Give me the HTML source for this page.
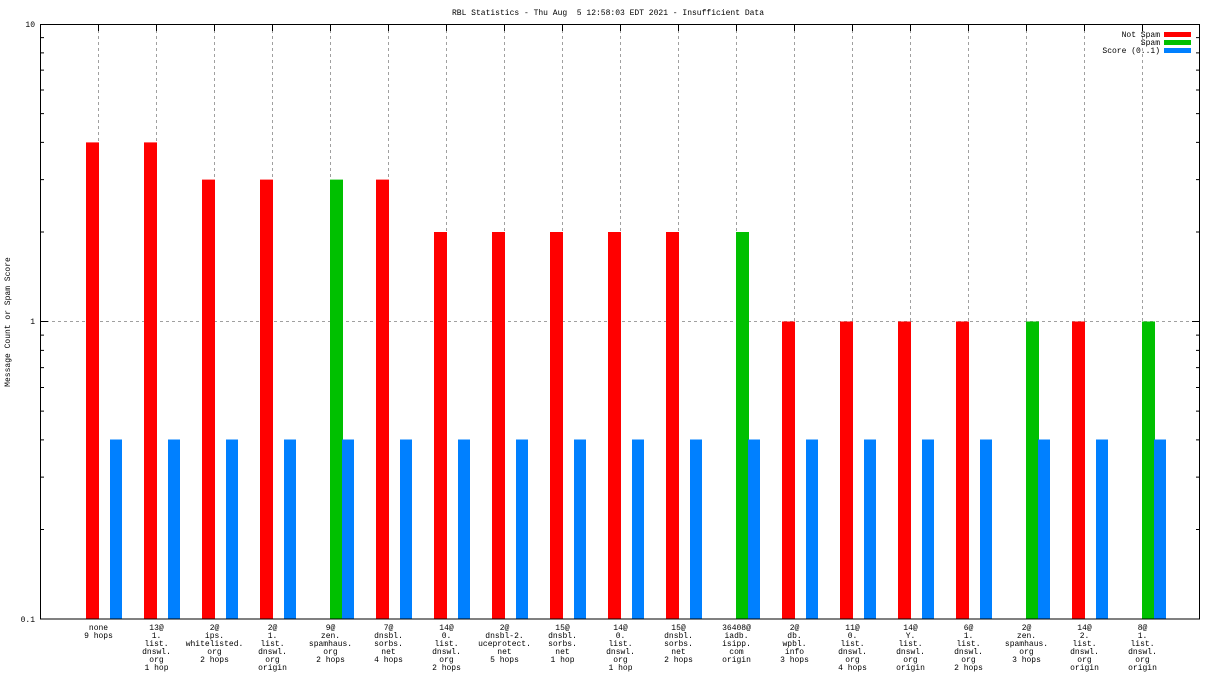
<!DOCTYPE html>
<html><head><meta charset="utf-8"><style>
html,body{margin:0;padding:0;background:#fff;}
svg{display:block;}
text{font-family:"Liberation Mono",monospace;font-size:8px;fill:#000;}
.pre{white-space:pre;}
</style></head><body>
<svg width="1216" height="684" viewBox="0 0 1216 684" xmlns="http://www.w3.org/2000/svg">
<rect width="1216" height="684" fill="#fff"/>
<text class="pre" xml:space="preserve" x="608" y="15" text-anchor="middle">RBL Statistics - Thu Aug  5 12:58:03 EDT 2021 - Insufficient Data</text>
<text transform="translate(10,322) rotate(-90)" text-anchor="middle">Message Count or Spam Score</text>
<g stroke="#a0a0a0" stroke-width="1" stroke-dasharray="3,3">
<line x1="40" y1="321.5" x2="1200" y2="321.5"/>
<line x1="98.5" y1="24" x2="98.5" y2="619"/><line x1="156.5" y1="24" x2="156.5" y2="619"/><line x1="214.5" y1="24" x2="214.5" y2="619"/><line x1="272.5" y1="24" x2="272.5" y2="619"/><line x1="330.5" y1="24" x2="330.5" y2="619"/><line x1="388.5" y1="24" x2="388.5" y2="619"/><line x1="446.5" y1="24" x2="446.5" y2="619"/><line x1="504.5" y1="24" x2="504.5" y2="619"/><line x1="562.5" y1="24" x2="562.5" y2="619"/><line x1="620.5" y1="24" x2="620.5" y2="619"/><line x1="678.5" y1="24" x2="678.5" y2="619"/><line x1="736.5" y1="24" x2="736.5" y2="619"/><line x1="794.5" y1="24" x2="794.5" y2="619"/><line x1="852.5" y1="24" x2="852.5" y2="619"/><line x1="910.5" y1="24" x2="910.5" y2="619"/><line x1="968.5" y1="24" x2="968.5" y2="619"/><line x1="1026.5" y1="24" x2="1026.5" y2="619"/><line x1="1084.5" y1="24" x2="1084.5" y2="619"/><line x1="1142.5" y1="24" x2="1142.5" y2="619"/>
</g>
<g>
<rect x="86" y="142.4" width="13" height="476.6" fill="#ff0000"/>
<rect x="144" y="142.4" width="13" height="476.6" fill="#ff0000"/>
<rect x="202" y="179.6" width="13" height="439.4" fill="#ff0000"/>
<rect x="260" y="179.6" width="13" height="439.4" fill="#ff0000"/>
<rect x="330" y="179.6" width="13" height="439.4" fill="#00c000"/>
<rect x="376" y="179.6" width="13" height="439.4" fill="#ff0000"/>
<rect x="434" y="232" width="13" height="387" fill="#ff0000"/>
<rect x="492" y="232" width="13" height="387" fill="#ff0000"/>
<rect x="550" y="232" width="13" height="387" fill="#ff0000"/>
<rect x="608" y="232" width="13" height="387" fill="#ff0000"/>
<rect x="666" y="232" width="13" height="387" fill="#ff0000"/>
<rect x="736" y="232" width="13" height="387" fill="#00c000"/>
<rect x="782" y="321.5" width="13" height="297.5" fill="#ff0000"/>
<rect x="840" y="321.5" width="13" height="297.5" fill="#ff0000"/>
<rect x="898" y="321.5" width="13" height="297.5" fill="#ff0000"/>
<rect x="956" y="321.5" width="13" height="297.5" fill="#ff0000"/>
<rect x="1026" y="321.5" width="13" height="297.5" fill="#00c000"/>
<rect x="1072" y="321.5" width="13" height="297.5" fill="#ff0000"/>
<rect x="1142" y="321.5" width="13" height="297.5" fill="#00c000"/>
</g>
<g fill="#0080ff">
<rect x="110" y="439.5" width="12" height="179.5"/><rect x="168" y="439.5" width="12" height="179.5"/><rect x="226" y="439.5" width="12" height="179.5"/><rect x="284" y="439.5" width="12" height="179.5"/><rect x="342" y="439.5" width="12" height="179.5"/><rect x="400" y="439.5" width="12" height="179.5"/><rect x="458" y="439.5" width="12" height="179.5"/><rect x="516" y="439.5" width="12" height="179.5"/><rect x="574" y="439.5" width="12" height="179.5"/><rect x="632" y="439.5" width="12" height="179.5"/><rect x="690" y="439.5" width="12" height="179.5"/><rect x="748" y="439.5" width="12" height="179.5"/><rect x="806" y="439.5" width="12" height="179.5"/><rect x="864" y="439.5" width="12" height="179.5"/><rect x="922" y="439.5" width="12" height="179.5"/><rect x="980" y="439.5" width="12" height="179.5"/><rect x="1038" y="439.5" width="12" height="179.5"/><rect x="1096" y="439.5" width="12" height="179.5"/><rect x="1154" y="439.5" width="12" height="179.5"/>
</g>
<rect x="40.5" y="24.5" width="1159" height="594.5" fill="none" stroke="#000" stroke-width="1"/>
<g stroke="#000" stroke-width="1">
<path d="M40 24.5h8M40 321.5h8M40 619h8M1200 24.5h-8M1200 321.5h-8M1200 619h-8"/>
<path d="M40 232h4M40 179.6h4M40 142.4h4M40 113.6h4M40 90h4M40 70.1h4M40 52.9h4M40 37.6h4M40 529.5h4M40 477.1h4M40 439.9h4M40 411.1h4M40 387.5h4M40 367.6h4M40 350.4h4M40 335.1h4"/>
<path d="M1200 232h-4M1200 179.6h-4M1200 142.4h-4M1200 113.6h-4M1200 90h-4M1200 70.1h-4M1200 52.9h-4M1200 37.6h-4M1200 529.5h-4M1200 477.1h-4M1200 439.9h-4M1200 411.1h-4M1200 387.5h-4M1200 367.6h-4M1200 350.4h-4M1200 335.1h-4"/>
<path d="M98.5 24v7M156.5 24v7M214.5 24v7M272.5 24v7M330.5 24v7M388.5 24v7M446.5 24v7M504.5 24v7M562.5 24v7M620.5 24v7M678.5 24v7M736.5 24v7M794.5 24v7M852.5 24v7M910.5 24v7M968.5 24v7M1026.5 24v7M1084.5 24v7M1142.5 24v7"/>
</g>
<text x="35" y="27" text-anchor="end">10</text>
<text x="35" y="324" text-anchor="end">1</text>
<text x="35" y="622" text-anchor="end">0.1</text>
<text x="1160" y="37" text-anchor="end">Not Spam</text>
<text x="1160" y="45" text-anchor="end">Spam</text>
<text x="1160" y="53" text-anchor="end">Score (0..1)</text>
<rect x="1164" y="32" width="27" height="5" fill="#ff0000"/>
<rect x="1164" y="40" width="27" height="5" fill="#00c000"/>
<rect x="1164" y="48" width="27" height="5" fill="#0080ff"/>
<g text-anchor="middle">
<text y="630"><tspan x="98.5">none</tspan><tspan x="98.5" dy="8">9 hops</tspan></text>
<text y="630"><tspan x="156.5">13@</tspan><tspan x="156.5" dy="8">1.</tspan><tspan x="156.5" dy="8">list.</tspan><tspan x="156.5" dy="8">dnswl.</tspan><tspan x="156.5" dy="8">org</tspan><tspan x="156.5" dy="8">1 hop</tspan></text>
<text y="630"><tspan x="214.5">2@</tspan><tspan x="214.5" dy="8">ips.</tspan><tspan x="214.5" dy="8">whitelisted.</tspan><tspan x="214.5" dy="8">org</tspan><tspan x="214.5" dy="8">2 hops</tspan></text>
<text y="630"><tspan x="272.5">2@</tspan><tspan x="272.5" dy="8">1.</tspan><tspan x="272.5" dy="8">list.</tspan><tspan x="272.5" dy="8">dnswl.</tspan><tspan x="272.5" dy="8">org</tspan><tspan x="272.5" dy="8">origin</tspan></text>
<text y="630"><tspan x="330.5">9@</tspan><tspan x="330.5" dy="8">zen.</tspan><tspan x="330.5" dy="8">spamhaus.</tspan><tspan x="330.5" dy="8">org</tspan><tspan x="330.5" dy="8">2 hops</tspan></text>
<text y="630"><tspan x="388.5">7@</tspan><tspan x="388.5" dy="8">dnsbl.</tspan><tspan x="388.5" dy="8">sorbs.</tspan><tspan x="388.5" dy="8">net</tspan><tspan x="388.5" dy="8">4 hops</tspan></text>
<text y="630"><tspan x="446.5">14@</tspan><tspan x="446.5" dy="8">0.</tspan><tspan x="446.5" dy="8">list.</tspan><tspan x="446.5" dy="8">dnswl.</tspan><tspan x="446.5" dy="8">org</tspan><tspan x="446.5" dy="8">2 hops</tspan></text>
<text y="630"><tspan x="504.5">2@</tspan><tspan x="504.5" dy="8">dnsbl-2.</tspan><tspan x="504.5" dy="8">uceprotect.</tspan><tspan x="504.5" dy="8">net</tspan><tspan x="504.5" dy="8">5 hops</tspan></text>
<text y="630"><tspan x="562.5">15@</tspan><tspan x="562.5" dy="8">dnsbl.</tspan><tspan x="562.5" dy="8">sorbs.</tspan><tspan x="562.5" dy="8">net</tspan><tspan x="562.5" dy="8">1 hop</tspan></text>
<text y="630"><tspan x="620.5">14@</tspan><tspan x="620.5" dy="8">0.</tspan><tspan x="620.5" dy="8">list.</tspan><tspan x="620.5" dy="8">dnswl.</tspan><tspan x="620.5" dy="8">org</tspan><tspan x="620.5" dy="8">1 hop</tspan></text>
<text y="630"><tspan x="678.5">15@</tspan><tspan x="678.5" dy="8">dnsbl.</tspan><tspan x="678.5" dy="8">sorbs.</tspan><tspan x="678.5" dy="8">net</tspan><tspan x="678.5" dy="8">2 hops</tspan></text>
<text y="630"><tspan x="736.5">36408@</tspan><tspan x="736.5" dy="8">iadb.</tspan><tspan x="736.5" dy="8">isipp.</tspan><tspan x="736.5" dy="8">com</tspan><tspan x="736.5" dy="8">origin</tspan></text>
<text y="630"><tspan x="794.5">2@</tspan><tspan x="794.5" dy="8">db.</tspan><tspan x="794.5" dy="8">wpbl.</tspan><tspan x="794.5" dy="8">info</tspan><tspan x="794.5" dy="8">3 hops</tspan></text>
<text y="630"><tspan x="852.5">11@</tspan><tspan x="852.5" dy="8">0.</tspan><tspan x="852.5" dy="8">list.</tspan><tspan x="852.5" dy="8">dnswl.</tspan><tspan x="852.5" dy="8">org</tspan><tspan x="852.5" dy="8">4 hops</tspan></text>
<text y="630"><tspan x="910.5">14@</tspan><tspan x="910.5" dy="8">Y.</tspan><tspan x="910.5" dy="8">list.</tspan><tspan x="910.5" dy="8">dnswl.</tspan><tspan x="910.5" dy="8">org</tspan><tspan x="910.5" dy="8">origin</tspan></text>
<text y="630"><tspan x="968.5">6@</tspan><tspan x="968.5" dy="8">1.</tspan><tspan x="968.5" dy="8">list.</tspan><tspan x="968.5" dy="8">dnswl.</tspan><tspan x="968.5" dy="8">org</tspan><tspan x="968.5" dy="8">2 hops</tspan></text>
<text y="630"><tspan x="1026.5">2@</tspan><tspan x="1026.5" dy="8">zen.</tspan><tspan x="1026.5" dy="8">spamhaus.</tspan><tspan x="1026.5" dy="8">org</tspan><tspan x="1026.5" dy="8">3 hops</tspan></text>
<text y="630"><tspan x="1084.5">14@</tspan><tspan x="1084.5" dy="8">2.</tspan><tspan x="1084.5" dy="8">list.</tspan><tspan x="1084.5" dy="8">dnswl.</tspan><tspan x="1084.5" dy="8">org</tspan><tspan x="1084.5" dy="8">origin</tspan></text>
<text y="630"><tspan x="1142.5">8@</tspan><tspan x="1142.5" dy="8">1.</tspan><tspan x="1142.5" dy="8">list.</tspan><tspan x="1142.5" dy="8">dnswl.</tspan><tspan x="1142.5" dy="8">org</tspan><tspan x="1142.5" dy="8">origin</tspan></text>
</g>
</svg>
</body></html>
